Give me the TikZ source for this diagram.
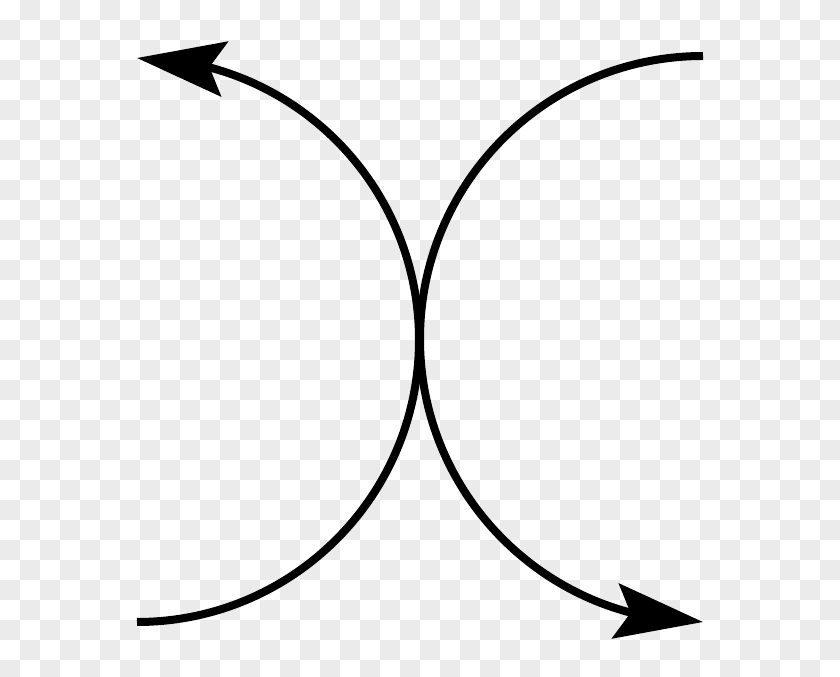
\documentclass[tikz,border=0pt]{standalone}
\usepackage{tikz}
\usetikzlibrary{arrows.meta}
\usetikzlibrary{bending}
\definecolor{checkgray}{HTML}{EBEBEB}
\tikzset{
  % Common styles for the picture
  >={Stealth[length=1.76cm, width=1.1cm, inset=0.3cm]},
  curve/.style={draw, line width=0.16cm, ->},
  cell/.style={fill=checkgray}
}

\begin{document}
\begin{tikzpicture}[x=0.02cm, y=0.02cm]
    % Background checkerboard
    \useasboundingbox (0,0) rectangle (840,677);
    \clip (0,0) rectangle (840,677);
    \fill[white] (0,0) rectangle (840,677);
    \foreach \i in {0,...,41} {
      \foreach \j in {0,...,33} {
        \pgfmathtruncatemacro{\p}{mod(\i+\j,2)}
        \ifnum\p=1
          \path[cell] (20*\i,677-20*\j) rectangle ++(20,-20);
        \fi
      }
    }

    % Place end points
    \coordinate (leftstart) at (137,55);
    \coordinate (rightstart) at (703,621);

    % Draw the two arcs
    \path [curve] (leftstart) arc[start angle=-90, end angle=90, radius=282];
    \path [curve] (rightstart) arc[start angle=90, end angle=270, radius=283];
\end{tikzpicture}
\end{document}
